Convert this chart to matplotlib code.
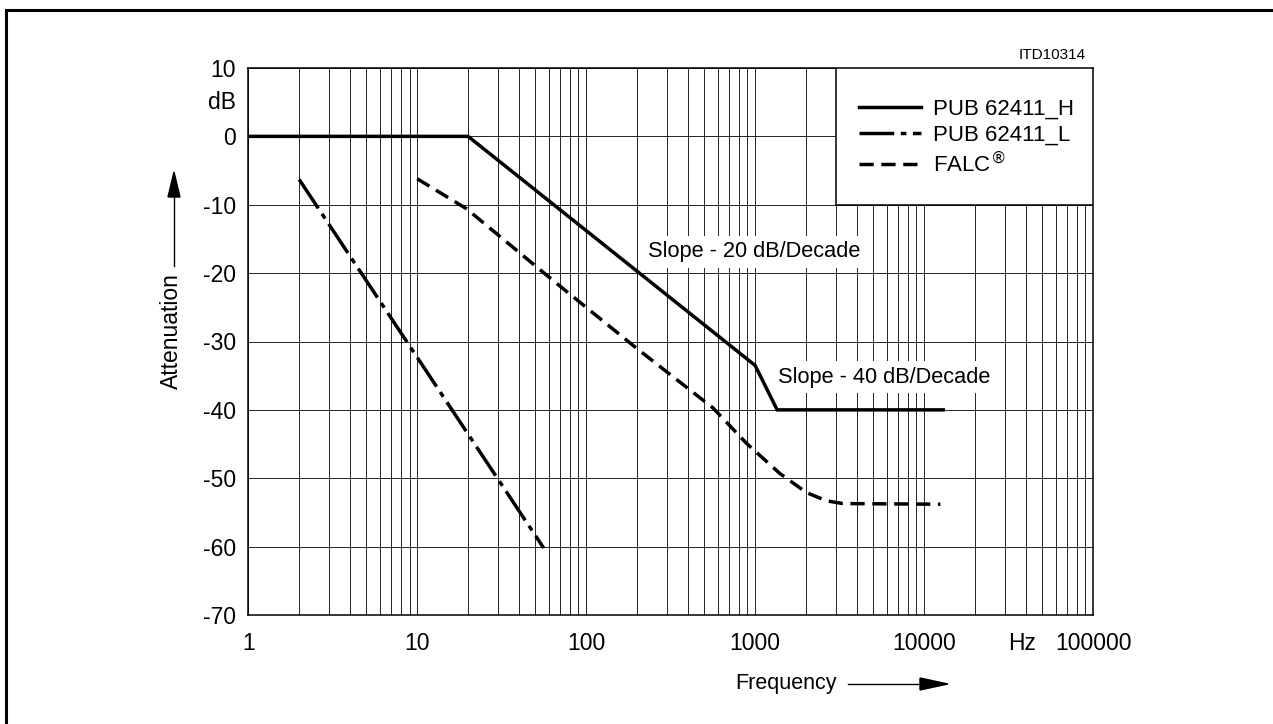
import numpy as np
import matplotlib
matplotlib.use("Agg")
import matplotlib.pyplot as plt
from matplotlib.ticker import LogLocator, NullFormatter, FixedLocator
from matplotlib.patches import Rectangle, Polygon

plt.rcParams['font.family'] = ['Liberation Sans Narrow', 'Liberation Sans', 'DejaVu Sans']

# curves (frequency in Hz, attenuation in dB)
h_freq = [1, 20, 1000, 1350, 13000]
h_db = [0, 0, -33.5, -40, -40]

l_freq = [2, 56]
l_db = [-6.3, -60.2]

falc_freq = [10, 19.6, 61, 199, 562, 890, 1400, 2015, 2645, 3300, 12500]
falc_db = [-6.2, -10.6, -20.7, -31, -39.7, -44.9, -49.3, -52.1, -53.3, -53.7, -53.8]

x_ticks = [1, 10, 100, 1000, 10000, 100000]
x_labels = ["1", "10", "100", "1000", "10000", "100000"]
y_ticks = [10, 0, -10, -20, -30, -40, -50, -60, -70]

fig = plt.figure(figsize=(12.73, 7.24), dpi=100)
W, H = 1273, 724
ax = fig.add_axes([248.3 / W, 1 - 615 / H, 844.7 / W, 547 / H])

# outer frame (only top and left edges fall inside the picture)
fig.patches.append(Rectangle((6 / W, -0.1), 1.2, 1.1 - 10 / H,
                             transform=fig.transFigure, fill=False,
                             edgecolor='black', lw=2.2))

ax.set_xscale('log')
ax.set_xlim(1, 100000)
ax.set_ylim(-70, 10)
ax.xaxis.set_major_locator(FixedLocator(x_ticks))
ax.set_xticklabels(x_labels)
ax.xaxis.set_minor_locator(LogLocator(base=10, subs=range(2, 10), numticks=20))
ax.xaxis.set_minor_formatter(NullFormatter())
ax.set_yticks(y_ticks)
ax.set_yticklabels([str(v) for v in y_ticks])
ax.tick_params(which='both', length=0, labelsize=16.5, pad=9)
ax.tick_params(axis='x', pad=12)
ax.grid(True, which='both', color='black', lw=0.6)
ax.set_axisbelow(True)
for s in ax.spines.values():
    s.set_linewidth(1.1)

ax.plot(h_freq, h_db, color='black', lw=2.5, solid_joinstyle='miter',
        label='PUB 62411_H', zorder=4)
ax.plot(l_freq, l_db, color='black', lw=2.5, dashes=(10, 1.9, 1.6, 1.9),
        dash_capstyle='butt', label='PUB 62411_L', zorder=4)
ax.plot(falc_freq, falc_db, color='black', lw=2.5, dashes=(4.1, 2.2),
        dash_capstyle='butt', label=r'FALC$^{\circledR}$', zorder=4)

# legend box covering the grid
ax.add_patch(Rectangle((0.6955, 0.75), 0.3045, 0.25, transform=ax.transAxes,
                       facecolor='white', edgecolor='black', lw=1.1, zorder=3))
leg = ax.legend(loc='upper left', bbox_to_anchor=(0.723, 0.943), frameon=False,
                fontsize=16, handlelength=2.8, handletextpad=0.55,
                labelspacing=0.22, borderpad=0, borderaxespad=0)
for line in leg.get_lines():
    line.set_linewidth(2.5)
leg.set_zorder(5)

box = dict(facecolor='white', edgecolor='none', pad=4)
ax.text(232, -16.9, "Slope - 20 dB/Decade", fontsize=15.7, ha='left',
        va='center', bbox=box, zorder=3)
ax.text(1362, -35.2, "Slope - 40 dB/Decade", fontsize=15.7, ha='left',
        va='center', bbox=box, zorder=3)

ax.annotate("dB", xy=(0, 5), xycoords=('axes fraction', 'data'),
            xytext=(-9, 0), textcoords='offset points', ha='right',
            va='center', fontsize=16.5)
ax.annotate("Hz", xy=(10 ** 4.58, 0), xycoords=('data', 'axes fraction'),
            xytext=(0, -12), textcoords='offset points', ha='center',
            va='top', fontsize=16.5)

fig.text(1086 / W, 1 - 55 / H, "ITD10314", fontsize=11, ha='right', va='center')

# axis titles with arrows
fig.text(735 / W, 1 - 683 / H, "Frequency", fontsize=15.5, ha='left', va='center')
fig.add_artist(plt.Line2D([848 / W, 925 / W], [1 - 684 / H, 1 - 684 / H],
                          color='black', lw=1.0))
fig.patches.append(Polygon(
    [[920 / W, 1 - 678 / H], [948 / W, 1 - 684 / H], [920 / W, 1 - 690 / H]],
    closed=True, transform=fig.transFigure, color='black'))

fig.text(171 / W, 1 - 331 / H, "Attenuation", fontsize=16.5, rotation=90,
         ha='center', va='center')
fig.add_artist(plt.Line2D([174 / W, 174 / W], [1 - 266 / H, 1 - 192 / H],
                          color='black', lw=1.0))
fig.patches.append(Polygon(
    [[168 / W, 1 - 197 / H], [174 / W, 1 - 172 / H], [180 / W, 1 - 197 / H]],
    closed=True, transform=fig.transFigure, color='black'))

fig.savefig("out.png", dpi=100)
